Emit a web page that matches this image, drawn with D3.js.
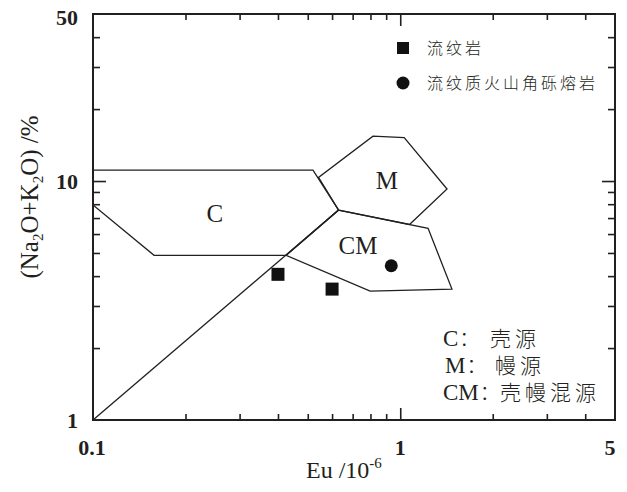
<!DOCTYPE html>
<html>
<head>
<meta charset="utf-8">
<script src="https://cdn.jsdelivr.net/npm/d3@7"></script>
<style>
  html, body { margin: 0; padding: 0; background: #fff; }
  svg { display: block; }
</style>
</head>
<body>
<svg id="chart" width="627" height="492"></svg>
<script>
// Eu vs (Na2O+K2O) discrimination diagram, log-log axes

// Samples: Eu (10^-6) and Na2O+K2O (%)
const rhyoliteEu  = [0.40, 0.60];
const rhyoliteAlk = [4.07, 3.53];
const brecciaEu   = [0.935];
const brecciaAlk  = [4.42];

// Field boundaries [Eu, Na2O+K2O]
const fieldC  = [[0.1, 11.1], [0.52, 11.1], [0.63, 7.56], [0.425, 4.89], [0.158, 4.89], [0.1, 7.94]];
const fieldM  = [[0.63, 7.56], [0.542, 10.36], [0.815, 15.4], [1.03, 15.2], [1.42, 9.26], [1.072, 6.58]];
const fieldCM = [[0.63, 7.56], [1.232, 6.34], [1.473, 3.53], [0.798, 3.46], [0.425, 4.89]];
const divideLine = [[0.1, 1], [0.63, 7.56]];

// Field labels [text, Eu, Na2O+K2O] (label centre x, baseline y)
const fieldLabels = [["C", 0.249, 6.75], ["M", 0.904, 9.22], ["CM", 0.729, 4.97]];

// Axis ticks
const xMinorTicks = [0.2, 0.3, 0.4, 0.5, 0.6, 0.7, 0.8, 0.9, 2, 3, 4];
const xMajorTicks = [1];
const yMinorTicks = [2, 3, 4, 5, 6, 7, 8, 9, 20, 30, 40];
const yMajorTicks = [10];
const xTickLabels = [0.1, 1, 5];
const yTickLabels = [1, 10, 50];

// Legend entries
const legendNames = ["流纹岩", "流纹质火山角砾熔岩"];
const keyAbbr = ["C", "M", "CM"];
const keyNames = ["壳源", "幔源", "壳幔混源"];

const svg = d3.select("#chart");
const L = 93, R = 615, T = 14, B = 420;

const x = d3.scaleLog().domain([0.1, 5]).range([L, R]);
const y = d3.scaleLog().domain([1, 50]).range([B, T]);

const serif = "'Liberation Serif','Times New Roman',serif";
const cjk = "'Noto Sans CJK SC','Noto Sans CJK JP',sans-serif";
const ink = "#231f20";

// Field polygons and dividing line
const line = d3.line().x(d => x(d[0])).y(d => y(d[1]));
const g = svg.append("g");
[fieldC, fieldM, fieldCM].forEach(f => {
  g.append("path")
    .attr("d", line(f) + "Z")
    .attr("fill", "none")
    .attr("stroke", ink)
    .attr("stroke-width", 1.3)
    .attr("stroke-linejoin", "miter");
});
g.append("path")
  .attr("d", line(divideLine))
  .attr("fill", "none")
  .attr("stroke", ink)
  .attr("stroke-width", 1.3);

g.selectAll("text.field").data(fieldLabels).enter().append("text")
  .attr("x", d => x(d[1]))
  .attr("y", d => y(d[2]))
  .attr("text-anchor", "middle")
  .attr("font-family", serif)
  .attr("font-size", 25)
  .attr("fill", ink)
  .text(d => d[0]);

// Frame and axes
svg.append("rect")
  .attr("x", L).attr("y", T)
  .attr("width", R - L).attr("height", B - T)
  .attr("fill", "none").attr("stroke", ink).attr("stroke-width", 2);

function addAxis(axisGen, transform) {
  const a = svg.append("g").attr("transform", transform).call(axisGen);
  a.select(".domain").remove();
  a.selectAll("line").attr("stroke", ink).attr("stroke-width", 1.6);
  a.selectAll("text").remove();
}
[["bottom", `translate(0,${B})`], ["top", `translate(0,${T})`]].forEach(([side, tr]) => {
  const axisMinor = (side === "bottom" ? d3.axisBottom(x) : d3.axisTop(x))
    .tickValues(xMinorTicks).tickSize(-6).tickFormat("");
  const axisMajor = (side === "bottom" ? d3.axisBottom(x) : d3.axisTop(x))
    .tickValues(xMajorTicks).tickSize(-12).tickFormat("");
  addAxis(axisMinor, tr);
  addAxis(axisMajor, tr);
});
[["left", `translate(${L},0)`], ["right", `translate(${R},0)`]].forEach(([side, tr]) => {
  const axisMinor = (side === "left" ? d3.axisLeft(y) : d3.axisRight(y))
    .tickValues(yMinorTicks).tickSize(-7).tickFormat("");
  const axisMajor = (side === "left" ? d3.axisLeft(y) : d3.axisRight(y))
    .tickValues(yMajorTicks).tickSize(-13).tickFormat("");
  addAxis(axisMinor, tr);
  addAxis(axisMajor, tr);
});

// Tick labels
svg.selectAll("text.xl").data(xTickLabels).enter().append("text")
  .attr("x", (d, i) => x(d) + (i === 0 ? -1 : i === 2 ? -5 : 0))
  .attr("y", 455)
  .attr("text-anchor", "middle")
  .attr("font-family", serif).attr("font-weight", "bold").attr("font-size", 22)
  .attr("fill", ink)
  .text(d => d);
svg.selectAll("text.yl").data(yTickLabels).enter().append("text")
  .attr("x", 78)
  .attr("y", (d, i) => y(d) + (i === 2 ? 11 : 8))
  .attr("text-anchor", "end")
  .attr("font-family", serif).attr("font-weight", "bold").attr("font-size", 22)
  .attr("fill", ink)
  .text(d => d);

// Axis titles
const xt = svg.append("text")
  .attr("x", 306).attr("y", 478)
  .attr("font-family", serif).attr("font-size", 24).attr("fill", ink);
xt.append("tspan").text("Eu /10");
xt.append("tspan").attr("dy", -10).attr("font-size", 15).text("-6");

const yt = svg.append("text")
  .attr("transform", "translate(38,197) rotate(-90)")
  .attr("text-anchor", "middle")
  .attr("font-family", serif).attr("font-size", 25).attr("fill", ink);
yt.append("tspan").text("(Na");
yt.append("tspan").attr("dy", 5).attr("font-size", 15).text("2");
yt.append("tspan").attr("dy", -5).text("O+K");
yt.append("tspan").attr("dy", 5).attr("font-size", 15).text("2");
yt.append("tspan").attr("dy", -5).text("O) /%");

// Samples
svg.selectAll("rect.rhy").data(rhyoliteEu).enter().append("rect")
  .attr("x", (d) => x(d) - 6.5)
  .attr("y", (d, i) => y(rhyoliteAlk[i]) - 6.5)
  .attr("width", 13).attr("height", 13)
  .attr("fill", "#111");
svg.selectAll("circle.bre").data(brecciaEu).enter().append("circle")
  .attr("cx", d => x(d))
  .attr("cy", (d, i) => y(brecciaAlk[i]))
  .attr("r", 6.5)
  .attr("fill", "#111");

// Legend
svg.append("rect").attr("x", 397).attr("y", 42).attr("width", 12).attr("height", 12).attr("fill", "#111");
svg.append("circle").attr("cx", 403).attr("cy", 83).attr("r", 6.5).attr("fill", "#111");
svg.selectAll("text.leg").data(legendNames).enter().append("text")
  .attr("x", 427)
  .attr("y", (d, i) => 54 + i * 35)
  .attr("font-family", cjk).attr("font-weight", 300).attr("font-size", 16)
  .attr("letter-spacing", 3)
  .attr("fill", ink)
  .text(d => d);

// Field key
const keyX = [[443, 490], [445, 495], [443, 500]];
keyAbbr.forEach((a, i) => {
  const yy = 346 + i * 27;
  const t = svg.append("text")
    .attr("x", keyX[i][0]).attr("y", yy)
    .attr("font-family", serif).attr("font-size", 23).attr("fill", ink)
    .text(a);
  const w = t.node().getComputedTextLength();
  svg.append("text")
    .attr("x", keyX[i][0] + w + 1).attr("y", yy)
    .attr("font-family", cjk).attr("font-weight", 300).attr("font-size", 20).attr("fill", ink)
    .text("：");
  svg.append("text")
    .attr("x", keyX[i][1]).attr("y", yy)
    .attr("font-family", cjk).attr("font-weight", 300).attr("font-size", 21)
    .attr("letter-spacing", 4)
    .attr("fill", ink)
    .text(keyNames[i]);
});
</script>
</body>
</html>
